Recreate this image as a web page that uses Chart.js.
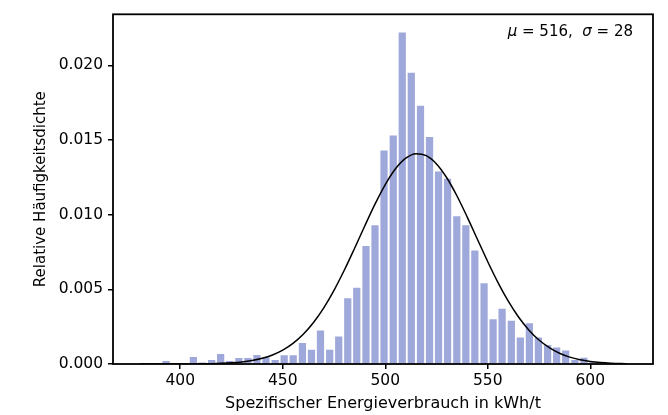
<!DOCTYPE html>
<html><head><meta charset="utf-8">
<script src="https://cdn.jsdelivr.net/npm/chart.js@4/dist/chart.umd.min.js"></script>
<style>html,body{margin:0;padding:0;background:#fff}#wrap{width:668px;height:415px;position:relative}</style>
</head><body><div id="wrap"><canvas id="c" width="668" height="415"></canvas></div>
<script>
// Histogram bin centers (kWh/t) and relative frequency density
const binCenters = [393.1,397.5,402.0,406.4,410.8,415.3,419.7,424.1,428.6,433.0,
  437.4,441.8,446.3,450.7,455.1,459.6,464.0,468.4,472.9,477.3,
  481.7,486.1,490.6,495.0,499.4,503.9,508.3,512.7,517.2,521.6,
  526.0,530.4,534.9,539.3,543.7,548.2,552.6,557.0,561.5,565.9,
  570.3,574.7,579.2,583.6,588.0,592.5,596.9,601.3,605.8,610.2];
const density = [0.0002,0,0,0.00047,0.0001,0.00027,0.00067,0.0002,0.0004,0.0004,
  0.0006,0.00045,0.00027,0.00058,0.00058,0.0014,0.00095,0.00225,0.00095,0.00185,
  0.0044,0.0051,0.0079,0.0093,0.0143,0.0153,0.0222,0.0195,0.0173,0.0152,
  0.0129,0.0124,0.0099,0.0093,0.0076,0.0054,0.0030,0.0037,0.0029,0.00177,
  0.00273,0.00177,0.00127,0.0011,0.0009,0.00027,0.00042,0.00012,0.00014,0];
// Fitted normal curve
const curveX = [380,385,390,395,400,405,410,415,420,425,430,435,440,445,450,455,460,465,470,475,
  480,485,490,495,500,505,510,515,520,525,530,535,540,545,550,555,560,565,570,575,
  580,585,590,595,600,605,610,615,618];
const curveY = [0.0000001,0.0000003,0.0000007,0.0000015,0.0000032,0.0000064,0.0000127,0.0000241,0.0000447,0.00008,
  0.000139,0.000235,0.000383,0.000606,0.00093,0.001381,0.00199,0.002779,0.003762,0.004935,
  0.006277,0.007738,0.009244,0.010704,0.012015,0.013071,0.013784,0.014088,0.013957,0.013402,
  0.012473,0.011252,0.00984,0.00834,0.00685,0.005454,0.004209,0.003149,0.002284,0.001604,
  0.001093,0.000721,0.000462,0.000286,0.000172,0.0001,0.000057,0.000031,0.000022];
const xTicks = [400,450,500,550,600];
const yTicks = [0,0.005,0.010,0.015,0.020];
const xTitle = 'Spezifischer Energieverbrauch in kWh/t';
const yTitle = 'Relative Häufigkeitsdichte';
const annotation = [{t:'μ',it:true},{t:' = 516,  ',it:false},{t:'σ',it:true},{t:' = 28',it:false}];

const FONT = 'DejaVu Sans';
const FS = 15;

const framePlugin = {
  id: 'frame',
  afterDraw(chart) {
    const {ctx, chartArea: a} = chart;
    ctx.save();
    ctx.strokeStyle = '#000';
    ctx.lineWidth = 1.8;
    ctx.strokeRect(a.left, a.top, a.right - a.left, a.bottom - a.top);
    ctx.fillStyle = '#000';
    ctx.textBaseline = 'alphabetic';
    let total = 0;
    const widths = annotation.map(s => {
      ctx.font = (s.it ? 'italic ' : '') + FS + 'px "' + FONT + '"';
      const w = ctx.measureText(s.t).width; total += w; return w;
    });
    let x = a.right - 20 - total;
    const y = a.top + 22;
    annotation.forEach((s, i) => {
      ctx.font = (s.it ? 'italic ' : '') + FS + 'px "' + FONT + '"';
      ctx.textAlign = 'left';
      ctx.fillText(s.t, x, y);
      x += widths[i];
    });
    ctx.restore();
  }
};

new Chart(document.getElementById('c'), {
  type: 'bar',
  data: {
    datasets: [
      {
        type: 'line',
        data: curveX.map((x, i) => ({x, y: curveY[i]})),
        borderColor: '#000',
        borderWidth: 1.5,
        pointRadius: 0,
        fill: false,
        cubicInterpolationMode: 'monotone',
        order: 0
      },
      {
        type: 'bar',
        data: binCenters.map((x, i) => ({x, y: density[i]})),
        backgroundColor: 'rgba(63,81,181,0.5)',
        borderWidth: 0,
        barPercentage: 0.8,
        categoryPercentage: 1.0,
        order: 1
      }
    ]
  },
  options: {
    responsive: false,
    animation: false,
    devicePixelRatio: 1,
    layout: {padding: {left: 20, right: 15, top: 13, bottom: 0}},
    plugins: {legend: {display: false}, tooltip: {enabled: false}},
    scales: {
      x: {
        type: 'linear',
        min: 367.2, max: 630.6,
        offset: false,
        grid: {display: true, drawOnChartArea: false, drawTicks: true, tickLength: 5, color: '#000', lineWidth: 1.5, offset: false},
        border: {display: false},
        afterBuildTicks: s => { s.ticks = xTicks.map(v => ({value: v})); },
        ticks: {color: '#000', font: {family: FONT, size: 15.5}, padding: 3, maxRotation: 0, autoSkip: false,
          callback: v => String(v)},
        title: {display: true, text: xTitle, color: '#000', font: {family: FONT, size: 16}, padding: {top: 0, bottom: 2}},
        afterFit: s => { s.height = 51; }
      },
      y: {
        type: 'linear',
        min: 0, max: 0.02342,
        grid: {display: true, drawOnChartArea: false, drawTicks: true, tickLength: 5, color: '#000', lineWidth: 1.5},
        border: {display: false},
        afterBuildTicks: s => { s.ticks = yTicks.map(v => ({value: v})); },
        ticks: {color: '#000', font: {family: FONT, size: 15.5}, padding: 5, autoSkip: false,
          callback: v => Number(v).toFixed(3)},
        title: {display: true, text: yTitle, color: '#000', font: {family: FONT, size: 15}, padding: {top: 12, bottom: 0}},
        afterFit: s => { s.width = 93; }
      }
    }
  },
  plugins: [framePlugin]
});
</script>
</body></html>
